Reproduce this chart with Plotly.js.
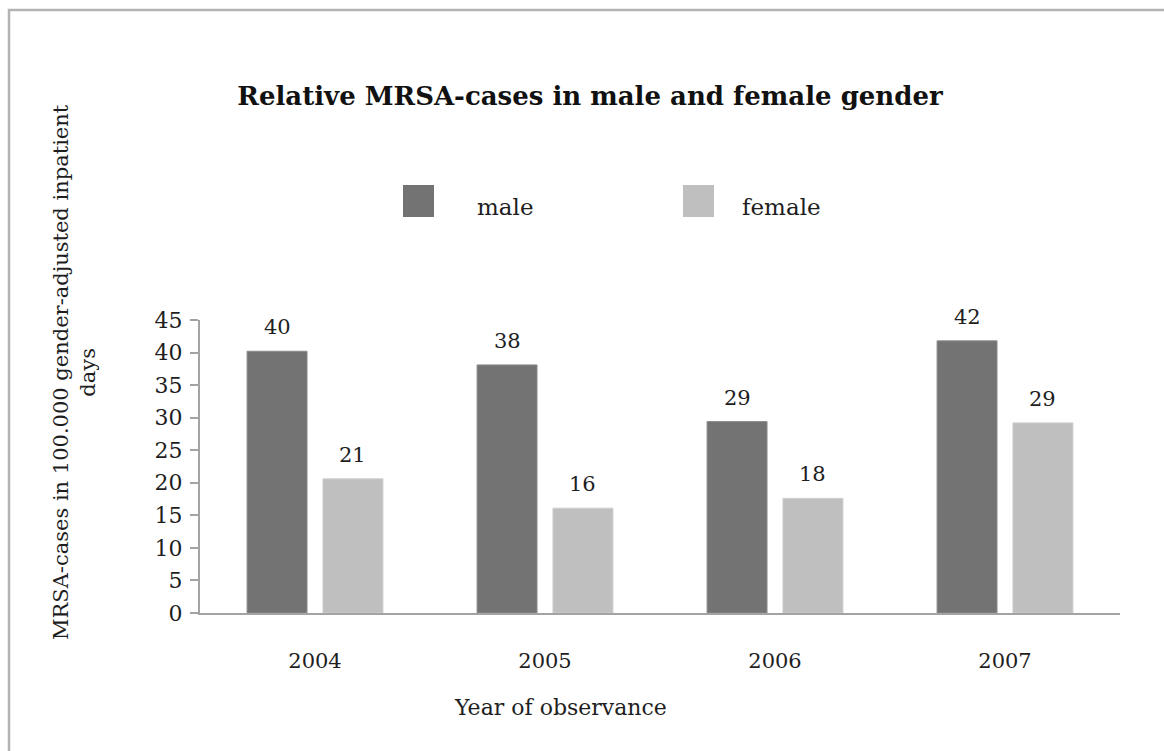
<!DOCTYPE html>
<html>
<head>
<meta charset="utf-8">
<script src="https://cdn.plot.ly/plotly-3.0.1.min.js"></script>
<style>
  html, body { margin: 0; padding: 0; background: #ffffff; }
  #chart { width: 1164px; height: 751px; }
</style>
</head>
<body>
<div id="chart"></div>
<script>
// ---- data ----
var categories = ['2004', '2005', '2006', '2007'];
var seriesNames = ['male', 'female'];
var maleValues = [40.2, 38.1, 29.4, 41.8];
var femaleValues = [20.6, 16.1, 17.6, 29.2];
var yTickValues = [0, 5, 10, 15, 20, 25, 30, 35, 40, 45];
var chartTitle = 'Relative MRSA-cases in male and female gender';
var xTitle = 'Year of observance';
var yTitleLines = ['MRSA-cases in 100.000 gender-adjusted inpatient', 'days'];
var seriesColors = ['#737373', '#bfbfbf'];
var seriesEdge = ['#8c8c8c', '#cdcdcd'];

// ---- layout geometry ----
var W = 1164, H = 751;
var M = {l: 200, r: 44, t: 320, b: 138};
var PW = W - M.l - M.r, PH = H - M.t - M.b;
function px(xp) { return (xp - M.l) / PW; }
function py(yp) { return (H - M.b - yp) / PH; }

var FONT = 'DejaVu Serif, Liberation Serif, serif';
var TXT = '#1e1e1e';
var bargap = 0.34, bargroupgap = 0.21;

var allValues = [maleValues, femaleValues];
var traces = allValues.map(function (vals, i) {
  return {
    type: 'bar',
    name: seriesNames[i],
    x: categories,
    y: vals,
    marker: {color: seriesColors[i], line: {color: seriesEdge[i], width: 1}},
    showlegend: false,
    hoverinfo: 'x+y+name',
    cliponaxis: false
  };
});

// value labels above bars (rounded values); category axis -> use category index
var slot = PW / categories.length * (1 - bargap) / 2;
var annotations = [];
allValues.forEach(function (vals, i) {
  vals.forEach(function (v, j) {
    annotations.push({
      x: j, y: v, xref: 'x', yref: 'y',
      text: String(Math.round(v)),
      showarrow: false, xanchor: 'center', yanchor: 'bottom',
      xshift: (i === 0 ? -1 : 1) * slot / 2, yshift: 10,
      font: {family: FONT, size: 21, color: TXT}
    });
  });
});

// axis titles
annotations.push({
  xref: 'paper', yref: 'paper', x: px(560), y: py(707),
  text: xTitle, showarrow: false, xanchor: 'center', yanchor: 'middle',
  font: {family: FONT, size: 22, color: TXT}
});
annotations.push({
  xref: 'paper', yref: 'paper', x: px(74), y: py(372),
  text: yTitleLines.join('<br>'), showarrow: false, textangle: -90,
  xanchor: 'center', yanchor: 'middle',
  font: {family: FONT, size: 21, color: TXT}
});

// manual legend (large swatches)
var legendSwatchX = [403, 683], legendTextX = [475, 740];
var shapes = [];
seriesNames.forEach(function (n, i) {
  shapes.push({
    type: 'rect', xref: 'paper', yref: 'paper',
    x0: px(legendSwatchX[i]), x1: px(legendSwatchX[i] + 31),
    y0: py(217), y1: py(185),
    fillcolor: seriesColors[i], line: {width: 0}
  });
  annotations.push({
    xref: 'paper', yref: 'paper', x: px(legendTextX[i]), y: py(207),
    text: n, showarrow: false, xanchor: 'left', yanchor: 'middle',
    font: {family: FONT, size: 23, color: TXT}
  });
});

// outer frame
shapes.push({
  type: 'rect', xref: 'paper', yref: 'paper', layer: 'below',
  x0: px(9), x1: px(1200), y0: py(800), y1: py(10),
  line: {color: '#b3b3b3', width: 2.5}, fillcolor: 'rgba(0,0,0,0)'
});

var layout = {
  width: W, height: H,
  margin: M,
  paper_bgcolor: '#ffffff', plot_bgcolor: '#ffffff',
  title: {
    text: '<b>' + chartTitle + '</b>',
    x: px(590), xanchor: 'center', xref: 'paper',
    y: 1 - 96 / H, yanchor: 'middle', yref: 'container',
    font: {family: FONT, size: 26, color: '#111111'}
  },
  barmode: 'group', bargap: bargap, bargroupgap: bargroupgap,
  showlegend: false,
  xaxis: {
    type: 'category',
    showline: true, linecolor: '#a3a3a3', linewidth: 2,
    ticks: '', showgrid: false, zeroline: false,
    tickfont: {family: FONT, size: 21, color: TXT},
    ticklabelstandoff: 28
  },
  yaxis: {
    range: [0, 45], tickvals: yTickValues,
    showline: true, linecolor: '#a3a3a3', linewidth: 2,
    ticks: 'outside', ticklen: 8, tickcolor: '#a3a3a3', tickwidth: 2,
    showgrid: false, zeroline: false,
    tickfont: {family: FONT, size: 22, color: TXT},
    ticklabelstandoff: 3
  },
  annotations: annotations,
  shapes: shapes
};

Plotly.newPlot('chart', traces, layout, {displayModeBar: false, staticPlot: true});
</script>
</body>
</html>
